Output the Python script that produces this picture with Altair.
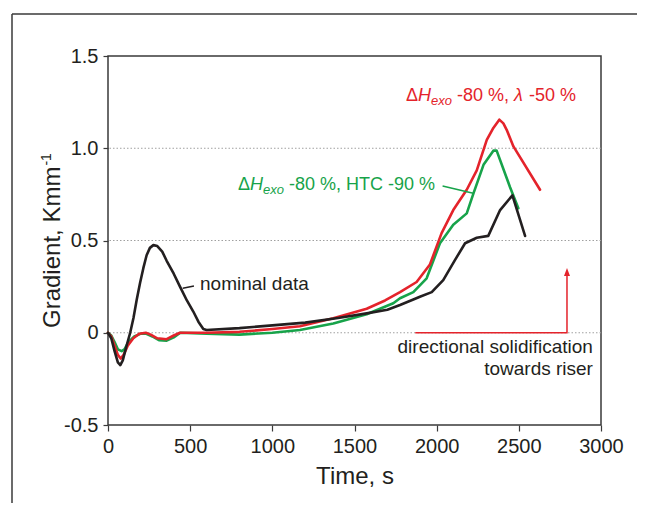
import altair as alt
import pandas as pd

# ---------------- data ----------------
time_nominal = [0, 20, 40, 60, 75, 90, 110, 135, 155, 175, 195, 215, 235, 255, 276, 300, 330, 357,
                400, 438, 480, 519, 550, 580, 600, 800, 1000, 1200, 1400, 1574, 1700, 1777, 1858,
                1898, 1970, 2040, 2112, 2173, 2244, 2314, 2386, 2461, 2538]
grad_nominal = [0, -0.03, -0.10, -0.16, -0.175, -0.15, -0.08, 0.0, 0.08, 0.18, 0.27, 0.35, 0.42, 0.46,
                0.475, 0.47, 0.44, 0.39, 0.32, 0.25, 0.175, 0.115, 0.06, 0.02, 0.015, 0.025, 0.04,
                0.055, 0.08, 0.105, 0.125, 0.15, 0.18, 0.195, 0.22, 0.285, 0.395, 0.485, 0.515,
                0.525, 0.665, 0.745, 0.525]

time_red = [0, 20, 40, 60, 77, 95, 120, 154, 190, 230, 260, 300, 357, 400, 438, 600, 800, 1000, 1168,
            1371, 1574, 1686, 1777, 1878, 1959, 2030, 2101, 2183, 2244, 2305, 2345, 2381, 2406,
            2426, 2467, 2629]
grad_red = [0, -0.02, -0.07, -0.12, -0.14, -0.12, -0.07, -0.03, -0.005, 0.0, -0.01, -0.03, -0.035,
            -0.015, 0.0, 0.0, 0.005, 0.02, 0.035, 0.078, 0.13, 0.175, 0.22, 0.275, 0.37, 0.54,
            0.665, 0.775, 0.88, 1.045, 1.11, 1.155, 1.135, 1.10, 1.01, 0.775]

time_green = [0, 20, 40, 60, 83, 100, 125, 160, 200, 230, 270, 310, 357, 400, 440, 600, 800, 1000,
              1168, 1371, 1574, 1736, 1777, 1858, 1939, 2020, 2101, 2183, 2224, 2285, 2345, 2365,
              2446, 2497]
grad_green = [0, -0.015, -0.05, -0.09, -0.10, -0.09, -0.05, -0.02, -0.005, -0.005, -0.02, -0.04,
              -0.043, -0.025, 0.0, -0.005, -0.01, 0.0, 0.015, 0.05, 0.10, 0.16, 0.187, 0.22, 0.295,
              0.485, 0.585, 0.647, 0.755, 0.91, 0.987, 0.987, 0.79, 0.675]

x_ticks = [0, 500, 1000, 1500, 2000, 2500, 3000]
y_ticks = [-0.5, 0, 0.5, 1.0, 1.5]
grid_values = [0, 0.5, 1.0]

nominal_text = "nominal data"
nominal_anchor = (560, 0.232)
nominal_leader_t = [455, 523]
nominal_leader_y = [0.241, 0.253]

green_leader_t = [2036, 2222]
green_leader_y = [0.795, 0.756]
green_anchor = (791, 0.773)
green_pieces = [("Δ", "normal", False), ("H", "italic", False), ("exo", "italic", True),
                (" -80 %, HTC -90 %", "normal", False)]

red_anchor = (1813, 1.258)
red_pieces = [("Δ", "normal", False), ("H", "italic", False), ("exo", "italic", True),
              (" -80 %, ", "normal", False), ("λ", "italic", False), (" -50 %", "normal", False)]

arrow_t = [1870, 2793, 2793]
arrow_y = [0, 0, 0.33]
arrow_head = (2793, 0.324)

note_lines = ["directional solidification", "towards riser"]
note_t = 2951
note_y = [-0.111, -0.229]

x_title = "Time, s"
y_title = "Gradient, Kmm"
y_title_sup = "-1"

# ---------------- styling ----------------
FONT = "Liberation Sans"
RED = "#e4232b"
GREEN = "#17a34a"
BLACK = "#231f20"
FRAME = "#3a3a3a"
TXT = "#231f20"
W, H = 493, 369
LABEL_FS = 18
NOTE_FS = 19
SUB_FS = 13

EM = {' ': .278, '-': .333, '%': .889, ',': .278, 'H': .722, 'T': .611, 'C': .722, 'e': .556,
      'x': .5, 'o': .556, 'Δ': .668, 'λ': .556, 'G': .778, 'r': .333, 'a': .556, 'd': .556,
      'i': .222, 'n': .556, 't': .278, 'K': .667, 'm': .833}


def text_width(s, fs):
    return sum(EM.get(c, .556) for c in s) * fs


xs = alt.Scale(domain=[0, 3000], nice=False, zero=False)
ys = alt.Scale(domain=[-0.5, 1.5], nice=False, zero=False)

xaxis = alt.Axis(values=x_ticks, format="d", title=x_title, titleFont=FONT, titleFontSize=24,
                 titleFontWeight="normal", titleColor=TXT, titlePadding=8,
                 labelFont=FONT, labelFontSize=20, labelColor=TXT, labelPadding=5,
                 tickSize=6, tickColor=FRAME, tickWidth=1.2, domain=False, grid=False,
                 labelFlush=False)
yaxis = alt.Axis(values=y_ticks, title=None,
                 labelExpr="datum.value == 0 ? '0' : (datum.value < 0 ? '-' + format(-datum.value, '.1f') : format(datum.value, '.1f'))",
                 labelFont=FONT, labelFontSize=20, labelColor=TXT, labelPadding=5,
                 tickSize=5, tickColor=FRAME, tickWidth=1.2, domain=False, grid=False)


def enc(tf="t", gf="g", **kw):
    return dict(x=alt.X(f"{tf}:Q", scale=xs, axis=xaxis), y=alt.Y(f"{gf}:Q", scale=ys, axis=yaxis), **kw)


one = pd.DataFrame({"k": [0]})

layers = []

# grid
layers.append(alt.Chart(pd.DataFrame({"g": grid_values})).mark_rule(
    color="#a0a0a0", strokeWidth=1, strokeDash=[1.5, 2]).encode(
    y=alt.Y("g:Q", scale=ys, axis=yaxis)))

# curves
for t, g, col in [(time_green, grad_green, GREEN), (time_red, grad_red, RED),
                  (time_nominal, grad_nominal, BLACK)]:
    layers.append(alt.Chart(pd.DataFrame({"t": t, "g": g})).mark_line(
        color=col, strokeWidth=2.6, strokeJoin="round", strokeCap="round").encode(**enc()))

# leaders
layers.append(alt.Chart(pd.DataFrame({"t": nominal_leader_t, "g": nominal_leader_y})).mark_line(
    color=BLACK, strokeWidth=1.5).encode(**enc()))
layers.append(alt.Chart(pd.DataFrame({"t": green_leader_t, "g": green_leader_y})).mark_line(
    color=GREEN, strokeWidth=1.5).encode(**enc()))

# arrow
layers.append(alt.Chart(pd.DataFrame({"t": arrow_t, "g": arrow_y, "o": [0, 1, 2]})).mark_line(
    color=RED, strokeWidth=1.5).encode(**enc(order="o:Q")))
layers.append(alt.Chart(pd.DataFrame({"t": [arrow_head[0]], "g": [arrow_head[1]]})).mark_point(
    shape="M0,-1L0.6,0.6L-0.6,0.6Z", size=100, filled=True, color=RED, opacity=1).encode(**enc()))

# nominal text
layers.append(alt.Chart(pd.DataFrame({"t": [nominal_anchor[0]], "g": [nominal_anchor[1]]})).mark_text(
    text=nominal_text, font=FONT, fontSize=NOTE_FS, color=TXT, align="left",
    baseline="alphabetic").encode(**enc()))

# note text
layers.append(alt.Chart(pd.DataFrame({"t": [note_t] * 2, "g": note_y, "s": note_lines})).mark_text(
    font=FONT, fontSize=NOTE_FS, color=TXT, align="right", baseline="alphabetic").encode(
    **enc(text="s:N")))


def rich_label(anchor, pieces, color):
    out = []
    dx = 0.0
    for s, style, sub in pieces:
        fs = SUB_FS if sub else LABEL_FS
        lead = len(s) - len(s.lstrip(" "))
        shown = s.strip(" ")
        out.append(alt.Chart(pd.DataFrame({"t": [anchor[0]], "g": [anchor[1]]})).mark_text(
            text=shown, font=FONT, fontSize=fs, fontStyle=style, color=color, align="left",
            baseline="alphabetic", dx=dx + text_width(" " * lead, fs), dy=4 if sub else 0).encode(**enc()))
        dx += text_width(s, fs)
    return out


layers += rich_label(red_anchor, red_pieces, RED)
layers += rich_label(green_anchor, green_pieces, GREEN)

# y title (rotated, with superscript)
YT_X, YT_Y, YT_FS = -48, 272, 24
layers.append(alt.Chart(one).mark_text(text=y_title, font=FONT, fontSize=YT_FS, color=TXT, angle=270,
                                       align="left", baseline="alphabetic").encode(
    x=alt.value(YT_X), y=alt.value(YT_Y)))
layers.append(alt.Chart(one).mark_text(text=y_title_sup, font=FONT, fontSize=14, color=TXT, angle=270,
                                       align="left", baseline="alphabetic").encode(
    x=alt.value(YT_X - 9), y=alt.value(YT_Y - text_width(y_title, YT_FS) - 1)))

# outer frame
layers.append(alt.Chart(one).mark_rule(color=FRAME, strokeWidth=1.5).encode(
    x=alt.value(-96), x2=alt.value(W + 60), y=alt.value(-42)))
layers.append(alt.Chart(one).mark_rule(color=FRAME, strokeWidth=1.5).encode(
    x=alt.value(-96), y=alt.value(-42), y2=alt.value(H + 90)))

chart = alt.layer(*layers).properties(
    width=W, height=H,
    autosize=alt.AutoSizeParams(type="none"),
    padding={"left": 100, "top": 48, "right": 36, "bottom": 78},
    background="white",
).configure_view(stroke=FRAME, strokeWidth=1.5)

chart.save("out.html", embed_options={"renderer": "svg", "actions": False})
